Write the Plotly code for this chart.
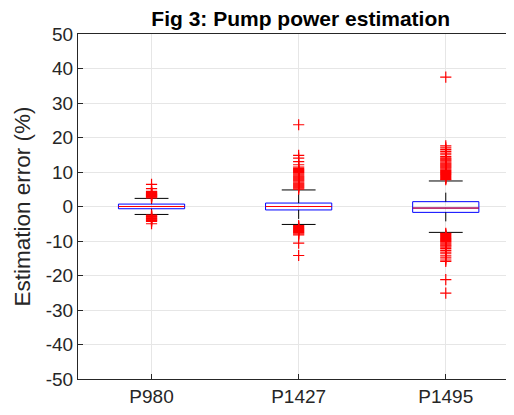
import plotly.graph_objects as go

categories = ["P980", "P1427", "P1495"]
q1 = [-0.65, -1.0, -1.7]
median = [0.0, 0.0, -0.45]
q3 = [0.7, 1.0, 1.4]
lower_whisker = [-2.3, -5.2, -7.5]
upper_whisker = [2.35, 4.8, 7.4]
y_ticks = list(range(-50, 51, 10))
y_tick_labels = [str(v) for v in y_ticks]

outliers = {
    "P980": [2.5, 2.7, 2.9, 3.0, 3.2, 3.3, 3.5, 3.6, 3.8, 4.0, 4.2, 4.4, 5.2, 6.4,
             -2.5, -2.7, -2.9, -3.1, -3.3, -3.5, -3.7, -3.9, -4.1, -4.3, -5.0],
    "P1427": [5.0, 5.3, 5.6, 5.9, 6.2, 6.5, 6.8, 7.1, 7.4, 7.7, 8.0, 8.3, 8.6, 8.9,
              9.2, 9.5, 9.8, 10.1, 10.4, 10.7, 11.0, 11.4, 12.1, 13.0, 14.0, 14.8, 23.7,
              -5.5, -5.8, -6.1, -6.4, -6.7, -7.0, -7.3, -7.6, -7.9, -8.2, -10.6, -14.2],
    "P1495": [7.8, 8.1, 8.4, 8.7, 9.0, 9.3, 9.6, 9.9, 10.2, 10.5, 10.8, 11.1, 11.4,
              11.7, 12.0, 12.3, 12.6, 12.9, 13.2, 13.5, 13.8, 14.1, 14.5, 15.0, 15.5,
              16.0, 16.5, 17.0, 17.6, 37.5,
              -7.8, -8.1, -8.4, -8.7, -9.0, -9.3, -9.6, -9.9, -10.2, -10.5, -10.8,
              -11.1, -11.4, -11.8, -12.2, -12.7, -13.2, -13.7, -14.3, -14.9, -15.5,
              -15.9, -21.2, -25.1],
}

positions = [1, 2, 3]
box_half = 0.225
cap_half = 0.115
ink = "#262626"

fig = go.Figure()

for i, cat in enumerate(categories):
    p = positions[i]
    fig.add_trace(go.Scatter(
        x=[p, p, None, p, p],
        y=[q3[i], upper_whisker[i], None, q1[i], lower_whisker[i]],
        mode="lines", line=dict(color="black", width=1, dash="dash"),
        showlegend=False, hoverinfo="skip"))
    fig.add_trace(go.Scatter(
        x=[p - cap_half, p + cap_half, None, p - cap_half, p + cap_half],
        y=[upper_whisker[i], upper_whisker[i], None, lower_whisker[i], lower_whisker[i]],
        mode="lines", line=dict(color="black", width=1),
        showlegend=False, hoverinfo="skip"))
    fig.add_trace(go.Box(
        x=[p], q1=[q1[i]], median=[median[i]], q3=[q3[i]],
        lowerfence=[q1[i]], upperfence=[q3[i]],
        width=2 * box_half, line=dict(color="blue", width=1),
        fillcolor="rgba(0,0,0,0)", boxpoints=False, showlegend=False,
        whiskerwidth=0))
    fig.add_trace(go.Scatter(
        x=[p - box_half, p + box_half], y=[median[i], median[i]],
        mode="lines", line=dict(color="red", width=1),
        showlegend=False, hoverinfo="skip"))
    fig.add_trace(go.Scatter(
        x=[p] * len(outliers[cat]), y=outliers[cat], mode="markers",
        marker=dict(symbol="cross-thin", size=8, line=dict(color="red", width=1.2)),
        showlegend=False, hoverinfo="skip"))

fig.update_layout(
    width=506, height=407,
    margin=dict(l=70, r=1, t=26, b=36),
    paper_bgcolor="white", plot_bgcolor="white",
    font=dict(family="Liberation Sans, Arial, sans-serif", color=ink),
    title=dict(text="<b>Fig 3: Pump power estimation</b>", x=0.5785, xanchor="center",
               y=1 - 11.0 / 407, yanchor="middle", font=dict(size=21, color="black")),
)
fig.update_xaxes(
    range=[0.5, 3.457], tickvals=positions, ticktext=categories,
    showgrid=True, gridcolor="#e6e6e6", gridwidth=1,
    showline=True, linecolor=ink, linewidth=1, mirror=True,
    ticks="inside", ticklen=5, tickcolor=ink, tickfont=dict(size=19, color=ink),
    zeroline=False)
fig.update_yaxes(
    range=[-50, 50], tickvals=y_ticks, ticktext=y_tick_labels,
    showgrid=True, gridcolor="#e6e6e6", gridwidth=1,
    showline=True, linecolor=ink, linewidth=1, mirror=True,
    ticks="inside", ticklen=5, tickcolor=ink, tickfont=dict(size=19, color=ink),
    title=dict(text="Estimation error (%)", font=dict(size=22.5, color=ink), standoff=8),
    zeroline=False)

fig.write_html("out.html")
